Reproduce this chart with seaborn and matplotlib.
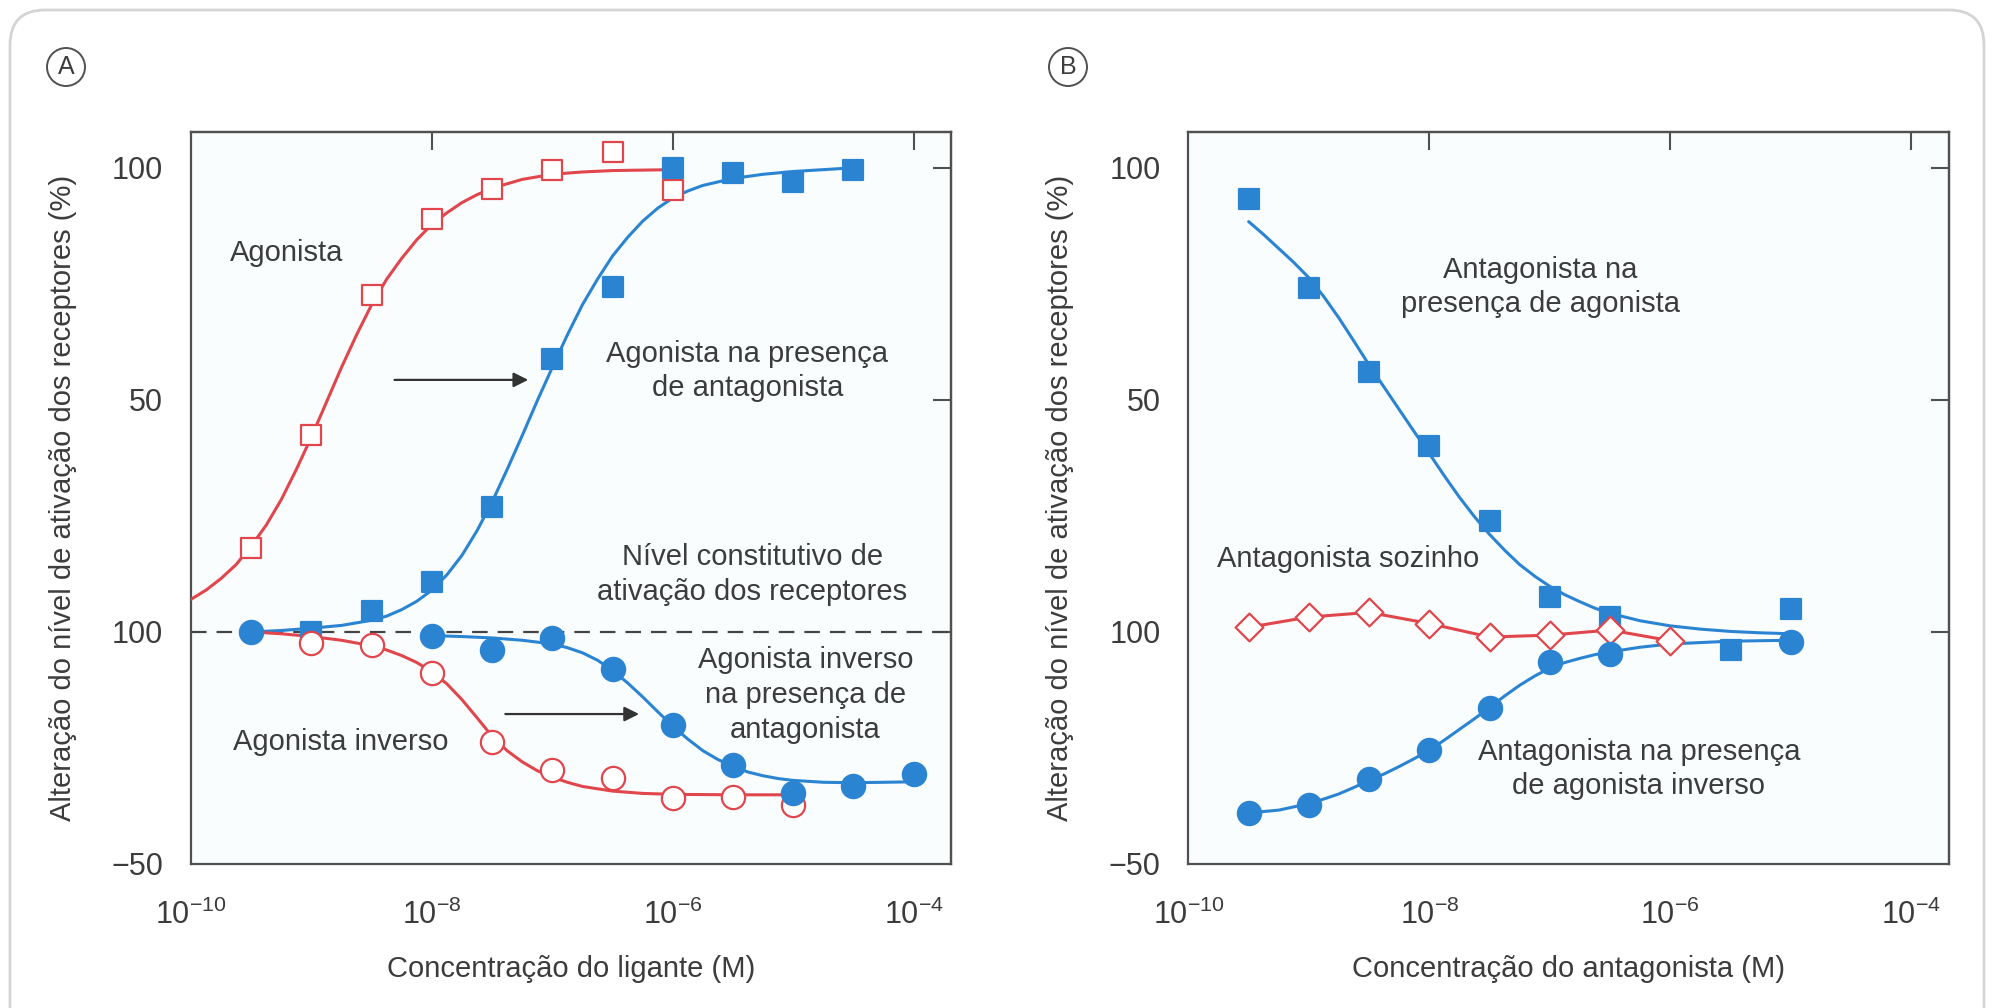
import numpy as np
import matplotlib
matplotlib.use("Agg")
import matplotlib.pyplot as plt
from matplotlib.patches import FancyBboxPatch
from matplotlib.ticker import NullLocator
import seaborn as sns

# ---------------- data (log10 of concentration, response %) ----------------
# Panel A
AG_LOGX = [-9.5, -9.0, -8.5, -8.0, -7.5, -7.0, -6.5, -6.0]
AG_Y = [18, 42.5, 72.5, 89, 95.4, 99.5, 103.3, 95.2]
AG_CURVE_LOGX = [-10.0, -9.875, -9.75, -9.625, -9.5, -9.375, -9.25, -9.125, -9.0,
                 -8.875, -8.75, -8.625, -8.5, -8.375, -8.25, -8.125, -8.0, -7.875,
                 -7.75, -7.625, -7.5, -7.25, -7.0, -6.75, -6.5, -6.25, -6.0]
AG_CURVE_Y = [7, 9, 11.5, 14.5, 18.5, 23, 28.5, 35, 42, 49.5, 57, 64, 70.5, 76,
              80.5, 84.5, 87.8, 90.3, 92.5, 94.2, 95.6, 97.5, 98.6, 99.1, 99.4,
              99.5, 99.6]

AGA_LOGX = [-9.0, -8.5, -8.0, -7.5, -7.0, -6.5, -6.0, -5.5, -5.0, -4.5]
AGA_Y = [0, 4.5, 10.8, 27, 58.7, 74.3, 100, 98.8, 97, 99.6]
AGA_CURVE_LOGX = [-9.5, -9.25, -9.0, -8.75, -8.5, -8.375, -8.25, -8.125, -8.0,
                  -7.875, -7.75, -7.625, -7.5, -7.375, -7.25, -7.125, -7.0, -6.875,
                  -6.75, -6.625, -6.5, -6.375, -6.25, -6.125, -6.0, -5.875, -5.75,
                  -5.5, -5.25, -5.0, -4.75, -4.5]
AGA_CURVE_Y = [0, 0.3, 0.8, 1.4, 2.5, 3.4, 4.8, 6.6, 9, 12.3, 16.5, 21.8, 28, 35,
               42.3, 49.8, 57, 64, 70.5, 76, 81, 85, 88.5, 91.3, 93.5, 95, 96.2,
               97.7, 98.6, 99.2, 99.6, 100]

INV_LOGX = [-9.0, -8.5, -8.0, -7.5, -7.0, -6.5, -6.0, -5.5, -5.0]
INV_Y = [-2.4, -2.8, -8.9, -23.8, -29.8, -31.5, -35.8, -35.6, -37.2]
INV_CURVE_LOGX = [-9.5, -9.25, -9.0, -8.75, -8.5, -8.375, -8.25, -8.125, -8.0,
                  -7.875, -7.75, -7.625, -7.5, -7.375, -7.25, -7.125, -7.0, -6.875,
                  -6.75, -6.5, -6.25, -6.0, -5.5, -5.0]
INV_CURVE_Y = [0, -0.4, -1, -1.8, -3, -3.9, -5.1, -6.6, -8.6, -11.2, -14.6, -18.5,
               -22.5, -25.6, -28, -29.9, -31.3, -32.4, -33.3, -34.3, -34.8, -35,
               -35.1, -35.1]

INVA_LOGX = [-9.5, -8.0, -7.5, -7.0, -6.5, -6.0, -5.5, -5.0, -4.5, -4.0]
INVA_Y = [0, -0.8, -3.8, -1.3, -8.1, -20.0, -28.6, -34.7, -33.3, -30.7]
INVA_CURVE_LOGX = [-8.0, -7.75, -7.5, -7.25, -7.0, -6.875, -6.75, -6.625, -6.5,
                   -6.375, -6.25, -6.125, -6.0, -5.875, -5.75, -5.625, -5.5, -5.375,
                   -5.25, -5.125, -5.0, -4.75, -4.5, -4.25, -4.0]
INVA_CURVE_Y = [-0.8, -1.0, -1.3, -1.8, -2.6, -3.4, -4.5, -6.1, -8.3, -11, -14,
                -17.2, -20.3, -23.1, -25.6, -27.5, -29, -30.2, -31, -31.6, -32,
                -32.4, -32.5, -32.4, -32.3]

# Panel B
ANTAG_LOGX = [-9.5, -9.0, -8.5, -8.0, -7.5, -7.0, -6.5, -5.5, -5.0]
ANTAG_Y = [93.3, 74.1, 56.1, 40.1, 24, 7.5, 3.2, -4, 4.9]
ANTAG_CURVE_LOGX = [-9.5, -9.375, -9.25, -9.125, -9.0, -8.875, -8.75, -8.625, -8.5,
                    -8.375, -8.25, -8.125, -8.0, -7.875, -7.75, -7.625, -7.5, -7.375,
                    -7.25, -7.125, -7.0, -6.875, -6.75, -6.625, -6.5, -6.25, -6.0,
                    -5.75, -5.5, -5.25, -5.0]
ANTAG_CURVE_Y = [88.4, 85.6, 82.6, 79.6, 76.3, 72.2, 67.6, 62.6, 57.5, 52.7, 47.9,
                 43.1, 38.4, 33.6, 29, 24.8, 21, 17.6, 14.5, 12, 9.8, 8, 6.5, 5.1,
                 4, 2.4, 1.3, 0.6, 0.1, -0.2, -0.4]

ANT_LOGX = [-9.5, -9.0, -8.5, -8.0, -7.5, -7.0, -6.5, -6.0]
ANT_Y = [1.0, 3.2, 4.2, 1.8, -1.1, -0.7, 0.4, -1.9]

ANTINV_LOGX = [-9.5, -9.0, -8.5, -8.0, -7.5, -7.0, -6.5, -5.0]
ANTINV_Y = [-39, -37.4, -31.7, -25.5, -16.4, -6.5, -4.7, -2.1]
ANTINV_CURVE_LOGX = [-9.5, -9.25, -9.0, -8.875, -8.75, -8.625, -8.5, -8.375, -8.25,
                     -8.125, -8.0, -7.875, -7.75, -7.625, -7.5, -7.375, -7.25,
                     -7.125, -7.0, -6.875, -6.75, -6.625, -6.5, -6.25, -6.0, -5.5,
                     -5.0]
ANTINV_CURVE_Y = [-39, -38.4, -37, -36, -34.9, -33.5, -32, -30.6, -29, -27.3,
                  -25.5, -23.3, -21, -18.7, -16.3, -13.8, -11.5, -9.5, -7.8, -6.6,
                  -5.7, -4.9, -4.3, -3.3, -2.6, -2.0, -1.8]

X_TICKS = [1e-10, 1e-8, 1e-6, 1e-4]
X_TICK_LABELS = [r'$\mathregular{10^{-10}}$', r'$\mathregular{10^{-8}}$',
                 r'$\mathregular{10^{-6}}$', r'$\mathregular{10^{-4}}$']
Y_TICKS = [-50, 0, 50, 100]
Y_TICK_LABELS = ['\u221250', '100', '50', '100']

# ---------------- style ----------------
sns.set_style("white")
plt.rcParams['font.family'] = ['Liberation Sans', 'DejaVu Sans']
plt.rcParams['mathtext.fontset'] = 'custom'
plt.rcParams['mathtext.rm'] = 'Liberation Sans'
plt.rcParams['mathtext.it'] = 'Liberation Sans:italic'

RED = '#e0464c'
BLUE = '#2b84d2'
TXT = '#3c3c3c'
SPINE = '#505050'
FS_TXT = 21
FS_TICK = 22

fig = plt.figure(figsize=(19.93, 10.08), dpi=100)
fig.patch.set_facecolor('white')

# outer rounded frame
frame = FancyBboxPatch((0.10, -1.0), 19.74, 10.98,
                       boxstyle="round,pad=0,rounding_size=0.35",
                       transform=fig.dpi_scale_trans, facecolor='none',
                       edgecolor='#d4d4d4', linewidth=2.0)
fig.patches.append(frame)

axA = fig.add_axes([0.0958, 0.1429, 0.3814, 0.7261])
axB = fig.add_axes([0.5963, 0.1429, 0.3814, 0.7261])


def L(v):
    return 10 ** np.asarray(v, dtype=float)


def curve(ax, lx, y, color):
    sns.lineplot(x=L(lx), y=y, ax=ax, color=color, lw=2.2, sort=False,
                 estimator=None, zorder=3)


def pts(ax, lx, y, marker, face, edge, size):
    sns.scatterplot(x=L(lx), y=y, ax=ax, marker=marker, s=size, facecolor=face,
                    edgecolor=edge, linewidth=1.6, zorder=4)


for ax in (axA, axB):
    ax.set_xscale('log')
    ax.set_facecolor('#fafdfe')

# Panel A
axA.axhline(0, color='#444444', lw=1.6, ls=(0, (7, 4.5)), zorder=2)
curve(axA, AG_CURVE_LOGX, AG_CURVE_Y, RED)
curve(axA, AGA_CURVE_LOGX, AGA_CURVE_Y, BLUE)
curve(axA, INV_CURVE_LOGX, INV_CURVE_Y, RED)
curve(axA, INVA_CURVE_LOGX, INVA_CURVE_Y, BLUE)
pts(axA, AG_LOGX, AG_Y, 's', 'white', RED, 190)
pts(axA, AGA_LOGX, AGA_Y, 's', BLUE, BLUE, 190)
pts(axA, INV_LOGX, INV_Y, 'o', 'white', RED, 280)
pts(axA, INVA_LOGX, INVA_Y, 'o', BLUE, BLUE, 280)

# Panel B
curve(axB, ANTAG_CURVE_LOGX, ANTAG_CURVE_Y, BLUE)
curve(axB, ANTINV_CURVE_LOGX, ANTINV_CURVE_Y, BLUE)
curve(axB, ANT_LOGX, ANT_Y, RED)
pts(axB, ANTAG_LOGX, ANTAG_Y, 's', BLUE, BLUE, 190)
pts(axB, ANT_LOGX, ANT_Y, 'D', 'white', RED, 200)
pts(axB, ANTINV_LOGX, ANTINV_Y, 'o', BLUE, BLUE, 280)

for ax in (axA, axB):
    ax.set_xlim(1e-10, 10 ** -3.69)
    ax.set_ylim(-50, 107.7)
    ax.set_xticks(X_TICKS)
    ax.set_xticklabels(X_TICK_LABELS)
    ax.xaxis.set_minor_locator(NullLocator())
    ax.set_yticks(Y_TICKS)
    ax.set_yticklabels(Y_TICK_LABELS)
    ax.tick_params(axis='both', which='major', direction='out', length=12,
                   width=1.5, color=SPINE, labelsize=FS_TICK, labelcolor=TXT,
                   pad=8)
    ax.tick_params(axis='x', length=16, pad=10)
    for s in ax.spines.values():
        s.set_color(SPINE)
        s.set_linewidth(1.6)
        s.set_visible(True)
    ax.set_ylabel('Altera\u00e7\u00e3o do n\u00edvel de ativa\u00e7\u00e3o dos receptores (%)',
                  fontsize=FS_TXT, color=TXT, labelpad=25)
    # inward ticks on top and right
    top = ax.secondary_xaxis('top')
    top.set_xticks(X_TICKS[1:])
    top.xaxis.set_minor_locator(NullLocator())
    top.tick_params(direction='in', length=13, width=1.5, color=SPINE,
                    labeltop=False)
    top.spines['top'].set_color(SPINE)
    top.spines['top'].set_linewidth(1.6)
    right = ax.secondary_yaxis('right')
    right.set_yticks(Y_TICKS[1:])
    right.tick_params(direction='in', length=13, width=1.5, color=SPINE,
                      labelright=False)
    right.spines['right'].set_color(SPINE)
    right.spines['right'].set_linewidth(1.6)

axA.set_xlabel('Concentra\u00e7\u00e3o do ligante (M)', fontsize=FS_TXT, color=TXT,
               labelpad=17)
axB.set_xlabel('Concentra\u00e7\u00e3o do antagonista (M)', fontsize=FS_TXT,
               color=TXT, labelpad=17)

# annotations panel A
tk = dict(fontsize=FS_TXT, color=TXT, linespacing=1.3)
axA.text(10 ** -9.68, 81.7, 'Agonista', ha='left', va='center', **tk)
axA.text(10 ** -5.38, 56.2, 'Agonista na presen\u00e7a\nde antagonista',
         ha='center', va='center', **tk)
axA.text(10 ** -5.34, 12.4, 'N\u00edvel constitutivo de\nativa\u00e7\u00e3o dos receptores',
         ha='center', va='center', **tk)
axA.text(10 ** -4.9, -13.6, 'Agonista inverso\nna presen\u00e7a de\nantagonista',
         ha='center', va='center', **tk)
axA.text(10 ** -9.65, -23.7, 'Agonista inverso', ha='left', va='center', **tk)
arw = dict(arrowstyle='-|>', color='#333333', lw=1.6, mutation_scale=22,
           shrinkA=0, shrinkB=0)
axA.annotate('', xy=(10 ** -7.2, 54.3), xytext=(10 ** -8.31, 54.3), arrowprops=arw)
axA.annotate('', xy=(10 ** -6.28, -17.7), xytext=(10 ** -7.39, -17.7), arrowprops=arw)

# annotations panel B
axB.text(10 ** -7.08, 74.3, 'Antagonista na\npresen\u00e7a de agonista',
         ha='center', va='center', **tk)
axB.text(10 ** -9.76, 15.7, 'Antagonista sozinho', ha='left', va='center', **tk)
axB.text(10 ** -6.26, -29.5, 'Antagonista na presen\u00e7a\nde agonista inverso',
         ha='center', va='center', **tk)

# panel letters
circ = dict(boxstyle='circle,pad=0.28', facecolor='white', edgecolor='#505050', lw=1.4)
fig.text(66 / 1993, 1 - 67 / 1008, 'A', fontsize=18, color=TXT, ha='center',
         va='center', bbox=circ)
fig.text(1068 / 1993, 1 - 67 / 1008, 'B', fontsize=18, color=TXT, ha='center',
         va='center', bbox=circ)

fig.savefig('out.png', dpi=100, facecolor='white')
